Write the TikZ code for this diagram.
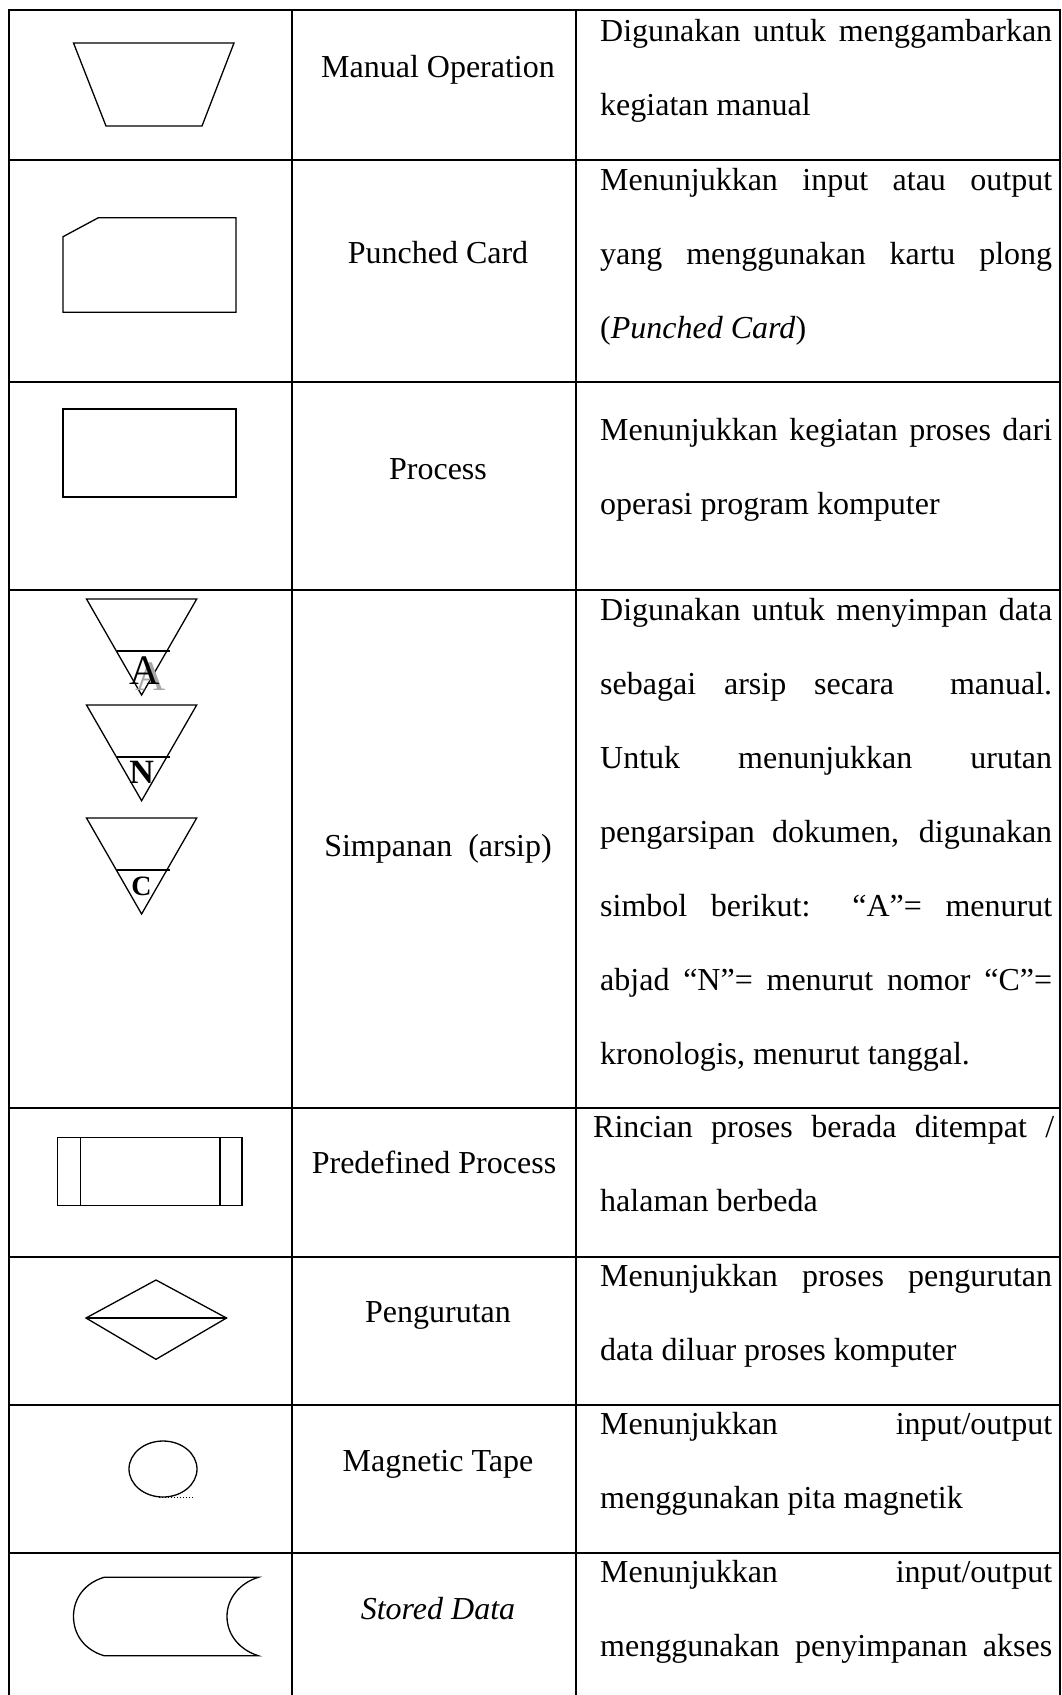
\documentclass[tikz,border=0pt]{standalone}
\usepackage{fontspec}
\setmainfont{Liberation Serif}
\newcommand\justline[1]{\makebox[452pt][s]{#1}}
\tikzset{
  tbl/.style={line width=1.8pt, line cap=rect},
  shp/.style={line width=1.3pt, line join=miter},
  lbl/.style={anchor=base, inner sep=0pt, font=\fontsize{32}{38}\selectfont},
  desc/.style={anchor=base west, inner sep=0pt, font=\fontsize{32}{38}\selectfont},
  letter/.style={inner sep=0pt, anchor=base}
}
\begin{document}
\begin{tikzpicture}[x=1pt,y=-1pt]
\useasboundingbox (0,0) rectangle (1061,1695);
% ---------- table grid ----------
\draw[tbl] (9,10) -- (1060,10);
\foreach \yy in {160,382,590,1108,1257,1405,1553}{
  \draw[tbl] (9,\yy) -- (1060,\yy);
}
\draw[tbl] (9,10) -- (9,1700);
\draw[tbl] (292,10) -- (292,1700);
\draw[tbl] (576,10) -- (576,1700);
\draw[tbl] (1060,10) -- (1060,1700);

% ---------- shapes (left column) ----------
% manual operation
\draw[shp] (73.5,43) -- (234,43) -- (202,126) -- (106,126) -- cycle;
% punched card
\draw[shp] (98.4,217.7) -- (236,217.7) -- (236,312.3) -- (63,312.3) -- (63,236.7) -- cycle;
% process
\draw[shp] (63,409) rectangle (236,497);
% archive triangles
\draw[shp] (86.5,599) -- (196.7,599) -- (141.6,695) -- cycle;
\draw[shp] (116.7,651) -- (170.3,651);
\node[letter, text=black!35, font=\fontsize{42}{42}\selectfont] (ga) at (151,690) {A};
\node[letter, font=\fontsize{42}{42}\selectfont] (ta) at (144.5,684) {A};
\draw[shp] (86.5,705) -- (196.7,705) -- (141.6,800.7) -- cycle;
\draw[shp] (116.7,757) -- (170.3,757);
\node[letter, font=\bfseries\fontsize{34}{34}\selectfont] (tn) at (141.6,783) {N};
\draw[shp] (86.5,818) -- (196.7,818) -- (141.6,914) -- cycle;
\draw[shp] (116.7,870) -- (170.3,870);
\node[letter, font=\bfseries\fontsize{28}{28}\selectfont] (tc) at (141.6,895) {C};
% predefined process
\draw[shp] (57.4,1137.3) rectangle (242,1205.7);
\draw[shp] (80.4,1137.3) -- (80.4,1205.7);
\draw[shp] (220,1137.3) -- (220,1205.7);
% sorting (diamond)
\draw[shp] (156,1280) -- (226.5,1318) -- (156,1359.3) -- (86,1318) -- cycle;
\draw[shp] (86,1318) -- (226.5,1318);
% magnetic tape
\draw[shp] (163,1469) ellipse [x radius=34, y radius=28];
\draw[line width=1pt, dotted] (159,1497) -- (194,1497);
% stored data
\draw[shp] (104,1577.3) -- (258.3,1577.3)
  .. controls (240,1583) and (227,1598) .. (227,1616.5)
  .. controls (227,1635) and (240,1650) .. (258.3,1655.7)
  -- (104,1655.7)
  .. controls (85,1650) and (73.5,1635) .. (73.5,1616.5)
  .. controls (73.5,1598) and (85,1583) .. (104,1577.3) -- cycle;

% ---------- labels (middle column) ----------
\node[lbl] (l1) at (438,77) {Manual Operation};
\node[lbl] (l2) at (438,263) {Punched Card};
\node[lbl] (l3) at (438,479) {Process};
\node[lbl] (l4) at (438,856) {Simpanan~~(arsip)};
\node[lbl] (l5) at (434,1173) {Predefined Process};
\node[lbl] (l6) at (438,1322) {Pengurutan};
\node[lbl] (l7) at (438,1471) {Magnetic Tape};
\node[lbl] (l8) at (438,1619) {\itshape Stored Data};

% ---------- descriptions (right column) ----------
\node[desc] (d1a) at (600,41) {\justline{Digunakan untuk menggambarkan}};
\node[desc] (d1b) at (600,115) {kegiatan manual};

\node[desc] (d2a) at (600,190) {\justline{Menunjukkan input atau output}};
\node[desc] (d2b) at (600,264) {\justline{yang menggunakan kartu plong}};
\node[desc] (d2c) at (600,338) {(\textit{Punched Card})};

\node[desc] (d3a) at (600,440) {\justline{Menunjukkan kegiatan proses dari}};
\node[desc] (d3b) at (600,514) {operasi program komputer};

\node[desc] (d4a) at (600,620) {\justline{Digunakan untuk menyimpan data}};
\node[desc] (d4b) at (600,694) {\justline{sebagai arsip secara \ manual.}};
\node[desc] (d4c) at (600,768) {\justline{Untuk menunjukkan urutan}};
\node[desc] (d4d) at (600,842) {\justline{pengarsipan dokumen, digunakan}};
\node[desc] (d4e) at (600,916) {\justline{simbol berikut: “A”= menurut}};
\node[desc] (d4f) at (600,990) {\justline{abjad “N”= menurut nomor “C”=}};
\node[desc] (d4g) at (600,1064) {kronologis, menurut tanggal.};

\node[desc] (d5a) at (593,1137) {\makebox[461pt][s]{Rincian proses berada ditempat /}};
\node[desc] (d5b) at (600,1211) {halaman berbeda};

\node[desc] (d6a) at (600,1286) {\justline{Menunjukkan proses pengurutan}};
\node[desc] (d6b) at (600,1360) {data diluar proses komputer};

\node[desc] (d7a) at (600,1434) {\justline{Menunjukkan input/output}};
\node[desc] (d7b) at (600,1508) {menggunakan pita magnetik};

\node[desc] (d8a) at (600,1582) {\justline{Menunjukkan input/output}};
\node[desc] (d8b) at (600,1656) {\justline{menggunakan penyimpanan akses}};
\end{tikzpicture}
\end{document}
